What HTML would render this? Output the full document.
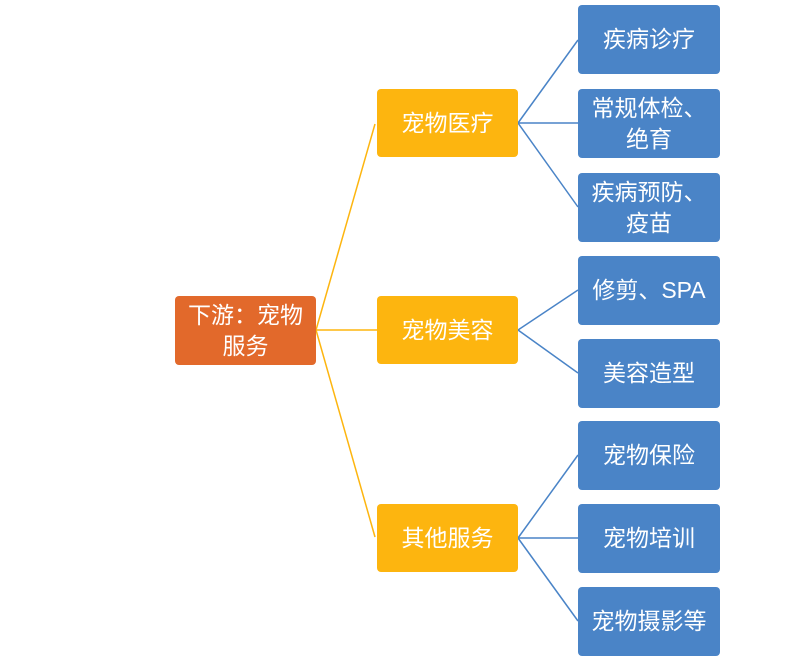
<!DOCTYPE html>
<html><head><meta charset="utf-8"><style>
body{margin:0;width:800px;height:660px;background:#fff;position:relative;overflow:hidden;font-family:"Liberation Sans","Noto Sans CJK SC",sans-serif;}
.b{position:absolute;display:flex;align-items:center;justify-content:center;text-align:center;color:#fff;font-size:23px;line-height:31px;border-radius:4px;box-sizing:border-box;}
.r{background:#E2692B;left:175px;top:296px;width:141px;height:69px;}
.y{background:#FDB50F;left:377px;width:141px;height:68px;}
.u{background:#4A84C7;left:578px;width:142px;height:69px;}
svg{position:absolute;left:0;top:0;}
</style></head><body>
<svg width="800" height="660">
<g fill="none" stroke="#FDB50F" stroke-width="1.5">
<line x1="316" y1="330" x2="375" y2="124"/>
<line x1="316" y1="330" x2="377" y2="330"/>
<line x1="316" y1="330" x2="375" y2="537"/>
</g>
<g fill="none" stroke="#4A84C7" stroke-width="1.5">
<line x1="518" y1="123" x2="578" y2="40"/>
<line x1="518" y1="123" x2="578" y2="123"/>
<line x1="518" y1="123" x2="578" y2="207"/>
<line x1="518" y1="330" x2="578" y2="290"/>
<line x1="518" y1="330" x2="578" y2="373"/>
<line x1="518" y1="538" x2="578" y2="455"/>
<line x1="518" y1="538" x2="578" y2="538"/>
<line x1="518" y1="538" x2="578" y2="621"/>
</g>
</svg>
<div class="b r">下游：宠物<br>服务</div>
<div class="b y" style="top:89px">宠物医疗</div>
<div class="b y" style="top:296px">宠物美容</div>
<div class="b y" style="top:504px">其他服务</div>
<div class="b u" style="top:5px">疾病诊疗</div>
<div class="b u" style="top:89px">常规体检、<br>绝育</div>
<div class="b u" style="top:173px">疾病预防、<br>疫苗</div>
<div class="b u" style="top:256px">修剪、SPA</div>
<div class="b u" style="top:339px">美容造型</div>
<div class="b u" style="top:421px">宠物保险</div>
<div class="b u" style="top:504px">宠物培训</div>
<div class="b u" style="top:587px">宠物摄影等</div>
</body></html>
